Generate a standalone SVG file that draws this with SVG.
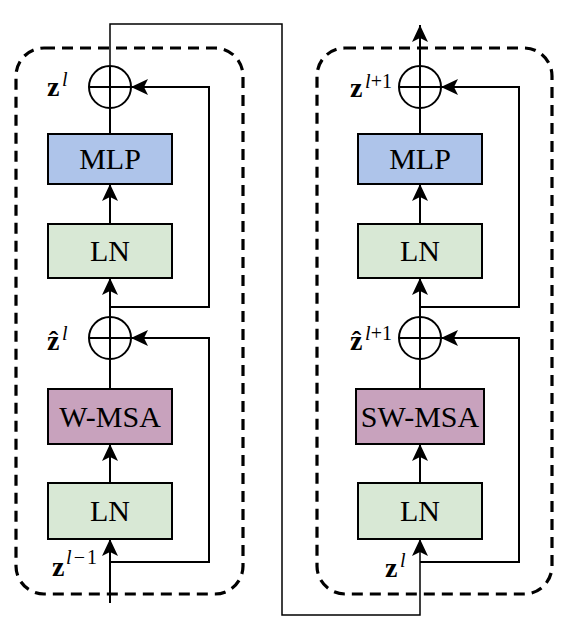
<svg xmlns="http://www.w3.org/2000/svg" width="570" height="628" viewBox="0 0 570 628">
<style>
.frame{fill:none;stroke:#000;stroke-width:3.2;stroke-dasharray:11 7}
.box{stroke:#000;stroke-width:2}
.mlp{fill:#aec4ea}
.ln{fill:#d8e8d5}
.msa{fill:#c8a2bd}
.bt{font-family:"Liberation Serif",serif;font-size:30px;text-anchor:middle;fill:#000}
.sum{fill:none;stroke:#000;stroke-width:2}
.c{fill:none;stroke:#000;stroke-width:2}
.c2{fill:none;stroke:#000;stroke-width:1.5}
.z{font-family:"Liberation Serif",serif;font-size:28px;font-weight:bold;fill:#000}
.sup{font-family:"Liberation Serif",serif;font-size:20px;font-style:italic;fill:#000}
.supn{font-family:"Liberation Serif",serif;font-size:20px;fill:#000}
</style>
<defs>
<marker id="ah" markerUnits="userSpaceOnUse" markerWidth="20" markerHeight="20" refX="17" refY="8" orient="auto" overflow="visible">
<path d="M17,8 L0,0 L4,8 L0,16 Z" fill="#000"/>
</marker>
</defs>

<rect class="frame" x="16" y="48" width="227" height="546" rx="28"/>
<rect class="frame" x="317" y="48" width="235" height="546" rx="28"/>

<g id="connectors">
<path class="c" d="M110,603 L110,539" marker-end="url(#ah)"/>
<path class="c" d="M110,562 L209,562 L209,338 L131,338" marker-end="url(#ah)"/>
<path class="c" d="M110,483 L110,444" marker-end="url(#ah)"/>
<path class="c" d="M110,389 L110,359"/>
<path class="c" d="M110,317 L110,278" marker-end="url(#ah)"/>
<path class="c" d="M110,307 L209,307 L209,87 L131,87" marker-end="url(#ah)"/>
<path class="c" d="M110,224 L110,184" marker-end="url(#ah)"/>
<path class="c" d="M110,134 L110,108"/>
<path class="c2" d="M110,66 L110,24 L282,24 L282,615 L420,615 L420,539" marker-end="url(#ah)"/>
<path class="c" d="M420,562 L519,562 L519,338 L441,338" marker-end="url(#ah)"/>
<path class="c" d="M420,483 L420,444" marker-end="url(#ah)"/>
<path class="c" d="M420,389 L420,359"/>
<path class="c" d="M420,317 L420,278" marker-end="url(#ah)"/>
<path class="c" d="M420,307 L519,307 L519,87 L441,87" marker-end="url(#ah)"/>
<path class="c" d="M420,224 L420,184" marker-end="url(#ah)"/>
<path class="c" d="M420,134 L420,108"/>
<path class="c" d="M420,66 L420,25" marker-end="url(#ah)"/>
</g>

<g id="sum1">
<circle class="sum" cx="110" cy="87" r="21"/>
<path class="sum" d="M89,87 L131,87 M110,66 L110,108"/>
</g>
<g id="mlp1">
<rect class="box mlp" x="48" y="134" width="124" height="50"/>
<text class="bt" x="110" y="169">MLP</text>
</g>
<g id="ln1">
<rect class="box ln" x="48" y="224" width="124" height="54"/>
<text class="bt" x="110" y="261">LN</text>
</g>
<g id="sum2">
<circle class="sum" cx="110" cy="338" r="21"/>
<path class="sum" d="M89,338 L131,338 M110,317 L110,359"/>
</g>
<g id="wmsa">
<rect class="box msa" x="48" y="389" width="124" height="55"/>
<text class="bt" x="110" y="427">W-MSA</text>
</g>
<g id="ln2">
<rect class="box ln" x="48" y="483" width="124" height="56"/>
<text class="bt" x="110" y="521">LN</text>
</g>

<g id="sum3">
<circle class="sum" cx="420" cy="87" r="21"/>
<path class="sum" d="M399,87 L441,87 M420,66 L420,108"/>
</g>
<g id="mlp2">
<rect class="box mlp" x="358" y="134" width="124" height="50"/>
<text class="bt" x="420" y="169">MLP</text>
</g>
<g id="ln3">
<rect class="box ln" x="358" y="224" width="124" height="54"/>
<text class="bt" x="420" y="261">LN</text>
</g>
<g id="sum4">
<circle class="sum" cx="420" cy="338" r="21"/>
<path class="sum" d="M399,338 L441,338 M420,317 L420,359"/>
</g>
<g id="swmsa">
<rect class="box msa" x="356" y="389" width="128" height="55"/>
<text class="bt" x="420" y="427">SW-MSA</text>
</g>
<g id="ln4">
<rect class="box ln" x="358" y="483" width="124" height="56"/>
<text class="bt" x="420" y="521">LN</text>
</g>

<g id="labels">
<text class="z" x="47" y="96">z</text>
<text class="sup" x="62" y="86">l</text>

<text class="z" x="47" y="350">z&#x302;</text>
<text class="sup" x="62" y="340">l</text>

<text class="z" x="52" y="576">z</text>
<text class="supn" x="66" y="564" textLength="31" lengthAdjust="spacing"><tspan font-style="italic">l</tspan>−1</text>

<text class="z" x="350" y="97">z</text>
<text class="supn" x="365" y="88" textLength="27" lengthAdjust="spacing"><tspan font-style="italic">l</tspan>+1</text>

<text class="z" x="350" y="350">z&#x302;</text>
<text class="supn" x="365" y="340" textLength="27" lengthAdjust="spacing"><tspan font-style="italic">l</tspan>+1</text>

<text class="z" x="385" y="577">z</text>
<text class="sup" x="400" y="567">l</text>
</g>
</svg>
